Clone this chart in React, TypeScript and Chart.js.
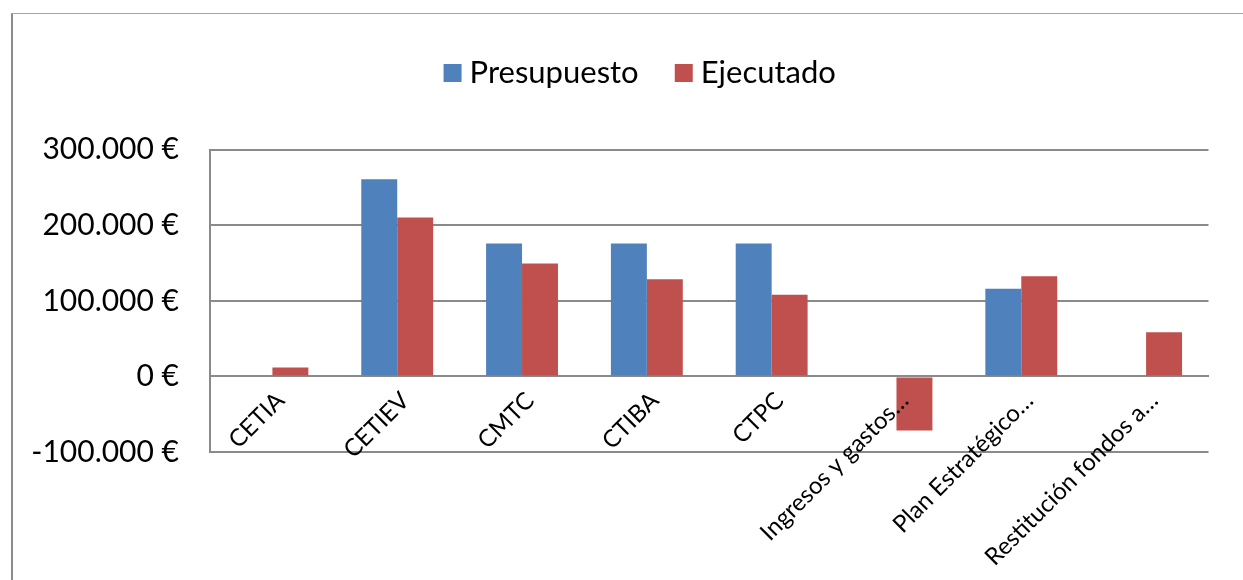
import React, { useEffect, useRef } from "react";
import { Chart, registerables } from "chart.js";

Chart.register(...registerables);

// Cost centres (long names are shortened the same way they appear on the axis)
const categories: string[] = [
  "CETIA",
  "CETIEV",
  "CMTC",
  "CTIBA",
  "CTPC",
  "Ingresos y gastos…",
  "Plan Estratégico…",
  "Restitución fondos a…",
];

// Budgeted amounts (€)
const presupuesto: number[] = [0, 261000, 176000, 176000, 176000, 0, 116000, 0];

// Executed amounts (€)
const ejecutado: number[] = [12000, 210500, 149500, 128500, 108000, -71500, 132500, 58500];

// Value axis range and step (€)
const yMin = -100000;
const yMax = 300000;
const yStep = 100000;

const seriesNames: string[] = ["Presupuesto", "Ejecutado"];
const seriesColors: string[] = ["#4F81BD", "#C0504D"];

const FONT = "Lato, 'Open Sans', 'DejaVu Sans', sans-serif";
const GRID = "#8a8a8a";

const PAD_LEFT = 20;
const PAD_RIGHT = -24;
const PLOT_LEFT = 210;
const RIGHT_GUTTER = 58.5;

function formatEuro(v: number): string {
  const digits = Math.abs(v)
    .toFixed(0)
    .replace(/\B(?=(\d{3})+(?!\d))/g, ".");
  return (v < 0 ? "-" : "") + digits + " €";
}

function BudgetChart() {
  const canvasRef = useRef<HTMLCanvasElement | null>(null);

  useEffect(() => {
    const canvas = canvasRef.current;
    if (!canvas) return;

    const chart = new Chart(canvas, {
      type: "bar",
      data: {
        labels: categories,
        datasets: [
          {
            label: seriesNames[0],
            data: presupuesto,
            backgroundColor: seriesColors[0],
            borderWidth: 0,
          },
          {
            label: seriesNames[1],
            data: ejecutado,
            backgroundColor: seriesColors[1],
            borderWidth: 0,
          },
        ],
      },
      options: {
        responsive: false,
        animation: false,
        devicePixelRatio: 1,
        events: [],
        datasets: {
          bar: {
            categoryPercentage: 0.576,
            barPercentage: 1,
          },
        },
        layout: {
          padding: { left: PAD_LEFT, right: PAD_RIGHT, top: 14, bottom: 128 },
        },
        plugins: {
          tooltip: { enabled: false },
          legend: {
            position: "top",
            align: "center",
            labels: {
              usePointStyle: true,
              pointStyle: "rect",
              boxWidth: 3,
              boxHeight: 18,
              padding: 43.6,
              color: "#000000",
              font: { family: FONT, size: 31 },
            },
          },
          // empty spacer between the legend and the plot
          title: {
            display: true,
            text: "",
            weight: 500,
            font: { size: 1 },
            padding: { top: 50, bottom: 0 },
          },
        },
        scales: {
          x: {
            position: { y: 0 } as any,
            grid: { display: false },
            border: { display: true, color: GRID, width: 2 },
            ticks: {
              autoSkip: false,
              minRotation: 45,
              maxRotation: 45,
              padding: 2,
              labelOffset: 8,
              z: 1,
              color: "#000000",
              font: { family: FONT, size: 24 },
            },
          },
          y: {
            min: yMin,
            max: yMax,
            afterFit: (scale: any) => {
              scale.width = PLOT_LEFT - PAD_LEFT;
            },
            grid: { color: GRID, lineWidth: 2, drawTicks: false },
            border: { display: true, color: GRID, width: 2 },
            ticks: {
              stepSize: yStep,
              padding: 31,
              color: "#000000",
              font: { family: FONT, size: 30 },
              callback: (v: any) => formatEuro(Number(v)),
            },
          },
          // blank gutter on the right of the plot
          gutter: {
            type: "linear",
            axis: "y",
            position: "right",
            afterFit: (scale: any) => {
              scale.width = RIGHT_GUTTER;
            },
            grid: { display: false, drawTicks: false },
            border: { display: false },
            ticks: { display: false },
          },
        },
      },
    });

    return () => chart.destroy();
  }, []);

  return (
    <canvas
      ref={canvasRef}
      width={1243}
      height={580}
      style={{ position: "absolute", left: 0, top: 0, width: 1243, height: 580 }}
    />
  );
}

export default function App() {
  return (
    <div
      style={{
        position: "fixed",
        left: 0,
        top: 0,
        width: 1243,
        height: 580,
        background: "#ffffff",
        overflow: "hidden",
      }}
    >
      <div
        style={{
          position: "absolute",
          left: 11,
          top: 13,
          width: 1300,
          height: 700,
          borderTop: "1.5px solid #a6a6a6",
          borderLeft: "2px solid #8c8c8c",
        }}
      />
      <BudgetChart />
    </div>
  );
}
